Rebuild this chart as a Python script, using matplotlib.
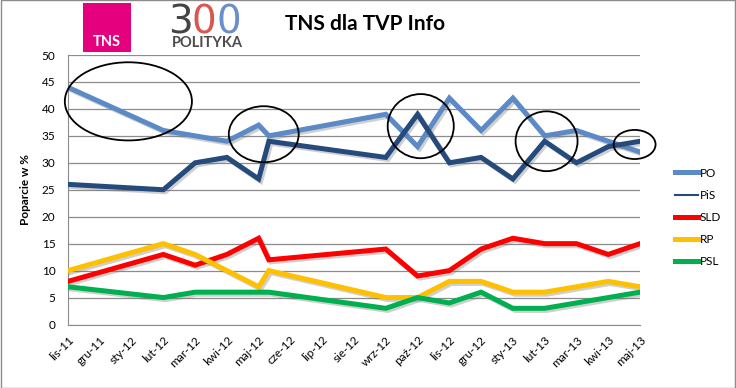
import numpy as np
import matplotlib
matplotlib.use('Agg')
import matplotlib.pyplot as plt
import matplotlib.patheffects as pe
from matplotlib.patches import Ellipse, Rectangle
from matplotlib.lines import Line2D

''' TNS dla TVP Info - poparcie partii '''

months = ['lis-11', 'gru-11', 'sty-12', 'lut-12', 'mar-12', 'kwi-12', 'maj-12',
          'cze-12', 'lip-12', 'sie-12', 'wrz-12', 'paź-12', 'lis-12', 'gru-12',
          'sty-13', 'lut-13', 'mar-13', 'kwi-13', 'maj-13']
# poll dates as month position (0 = lis-11)
poll_pos = [0, 3, 4, 5, 6, 6.32, 10, 11, 12, 13, 14, 15, 16, 17, 18]

po = [44, 36, 35, 34, 37, 35, 39, 33, 42, 36, 42, 35, 36, 34, 32]
pis = [26, 25, 30, 31, 27, 34, 31, 39, 30, 31, 27, 34, 30, 33, 34]
sld = [8, 13, 11, 13, 16, 12, 14, 9, 10, 14, 16, 15, 15, 13, 15]
rp = [10, 15, 13, 10, 7, 10, 5, 5, 8, 8, 6, 6, 7, 8, 7]
psl = [7, 5, 6, 6, 6, 6, 3, 5, 4, 6, 3, 3, 4, 5, 6]

parties = ['PO', 'PiS', 'SLD', 'RP', 'PSL']
series = [po, pis, sld, rp, psl]
colors = ['#5B8AC6', '#254A7C', '#FF0000', '#FFC000', '#00B050']

# circled regions: (centre x, centre y, width, height) in data units
circles = [(1.9, 41.4, 4.0, 14.5), (6.16, 35.3, 2.2, 10.4), (11.1, 36.8, 2.08, 11.9),
           (15.06, 34.0, 1.95, 11.1), (17.83, 33.4, 1.32, 5.4)]

font = ['Lato', 'DejaVu Sans']

fig = plt.figure(figsize=(7.36, 3.88), dpi=100)
ax = fig.add_axes([68 / 736, 1 - 324.5 / 388, 572 / 736, 269.5 / 388])

shadow = [pe.SimpleLineShadow(offset=(1.5, -1.5), shadow_color='#777777', alpha=0.35), pe.Normal()]
for name, vals, c in zip(parties, series, colors):
    ax.plot(poll_pos, vals, color=c, lw=3.6, solid_joinstyle='miter', path_effects=shadow, zorder=3)

for cx, cy, w, h in circles:
    ax.add_patch(Ellipse((cx, cy), w, h, fill=False, edgecolor='black', lw=1.3, clip_on=False, zorder=5))

ax.set_xlim(0, 18)
ax.set_ylim(0, 50)
ax.set_yticks(np.arange(0, 51, 5))
ax.set_xticks(np.arange(len(months)))
ax.set_xticklabels(months, rotation=45, ha='right', rotation_mode='anchor', fontsize=8.5, family=font)
for lab in ax.get_yticklabels():
    lab.set_fontsize(8.5)
    lab.set_family(font)
ax.tick_params(axis='y', length=0, pad=9)
ax.tick_params(axis='x', length=0, pad=7)
ax.yaxis.grid(True, color='#8C8C8C', lw=0.9)
ax.set_axisbelow(True)
for s in ['top', 'right']:
    ax.spines[s].set_visible(False)
ax.spines['left'].set_color('#8C8C8C')
ax.spines['bottom'].set_color('#8C8C8C')
ax.set_ylabel('Poparcie w %', fontsize=8.5, fontweight='bold', family=font, labelpad=8)

# legend (PiS handle is drawn thin, as in the original)
handles = [Line2D([], [], color=c, lw=(1.5 if n == 'PiS' else 3.6)) for n, c in zip(parties, colors)]
fig.legend(handles, parties, loc='upper left', bbox_to_anchor=(664 / 736, 1 - 157 / 388), frameon=False,
           handlelength=2.0, handletextpad=0.1, labelspacing=0.95, prop={'family': font, 'size': 8.5})

# header: logos and title
fig.patches.append(Rectangle((83 / 736, 1 - 52 / 388), 48 / 736, 49 / 388, transform=fig.transFigure,
                             facecolor='#E5007D', edgecolor='none'))
fig.text(107 / 736, 1 - 42 / 388, 'TNS', color='white', fontsize=10.5, fontweight='bold', ha='center', va='center',
         family=font)
for ch, xx, c in zip('300', [168, 192, 216], ['#444444', '#D9574F', '#6C8ECB']):
    fig.text(xx / 736, 1 - 33 / 388, ch, color=c, fontsize=28, ha='left', va='baseline', family=['DejaVu Sans'])
fig.text(207 / 736, 1 - 43 / 388, 'POLITYKA', color='#4D4D4D', fontsize=10.5, fontweight='bold', ha='center',
         va='center', family=font)
fig.text(285 / 736, 1 - 24 / 388, 'TNS dla TVP Info', fontsize=15, fontweight='bold', ha='left', va='center',
         family=font)

fig.patches.append(Rectangle((1 / 736, 0), 734 / 736, 1, transform=fig.transFigure, fill=False,
                             edgecolor='#8C8C8C', lw=1.0))

fig.savefig('out.png', dpi=100)
